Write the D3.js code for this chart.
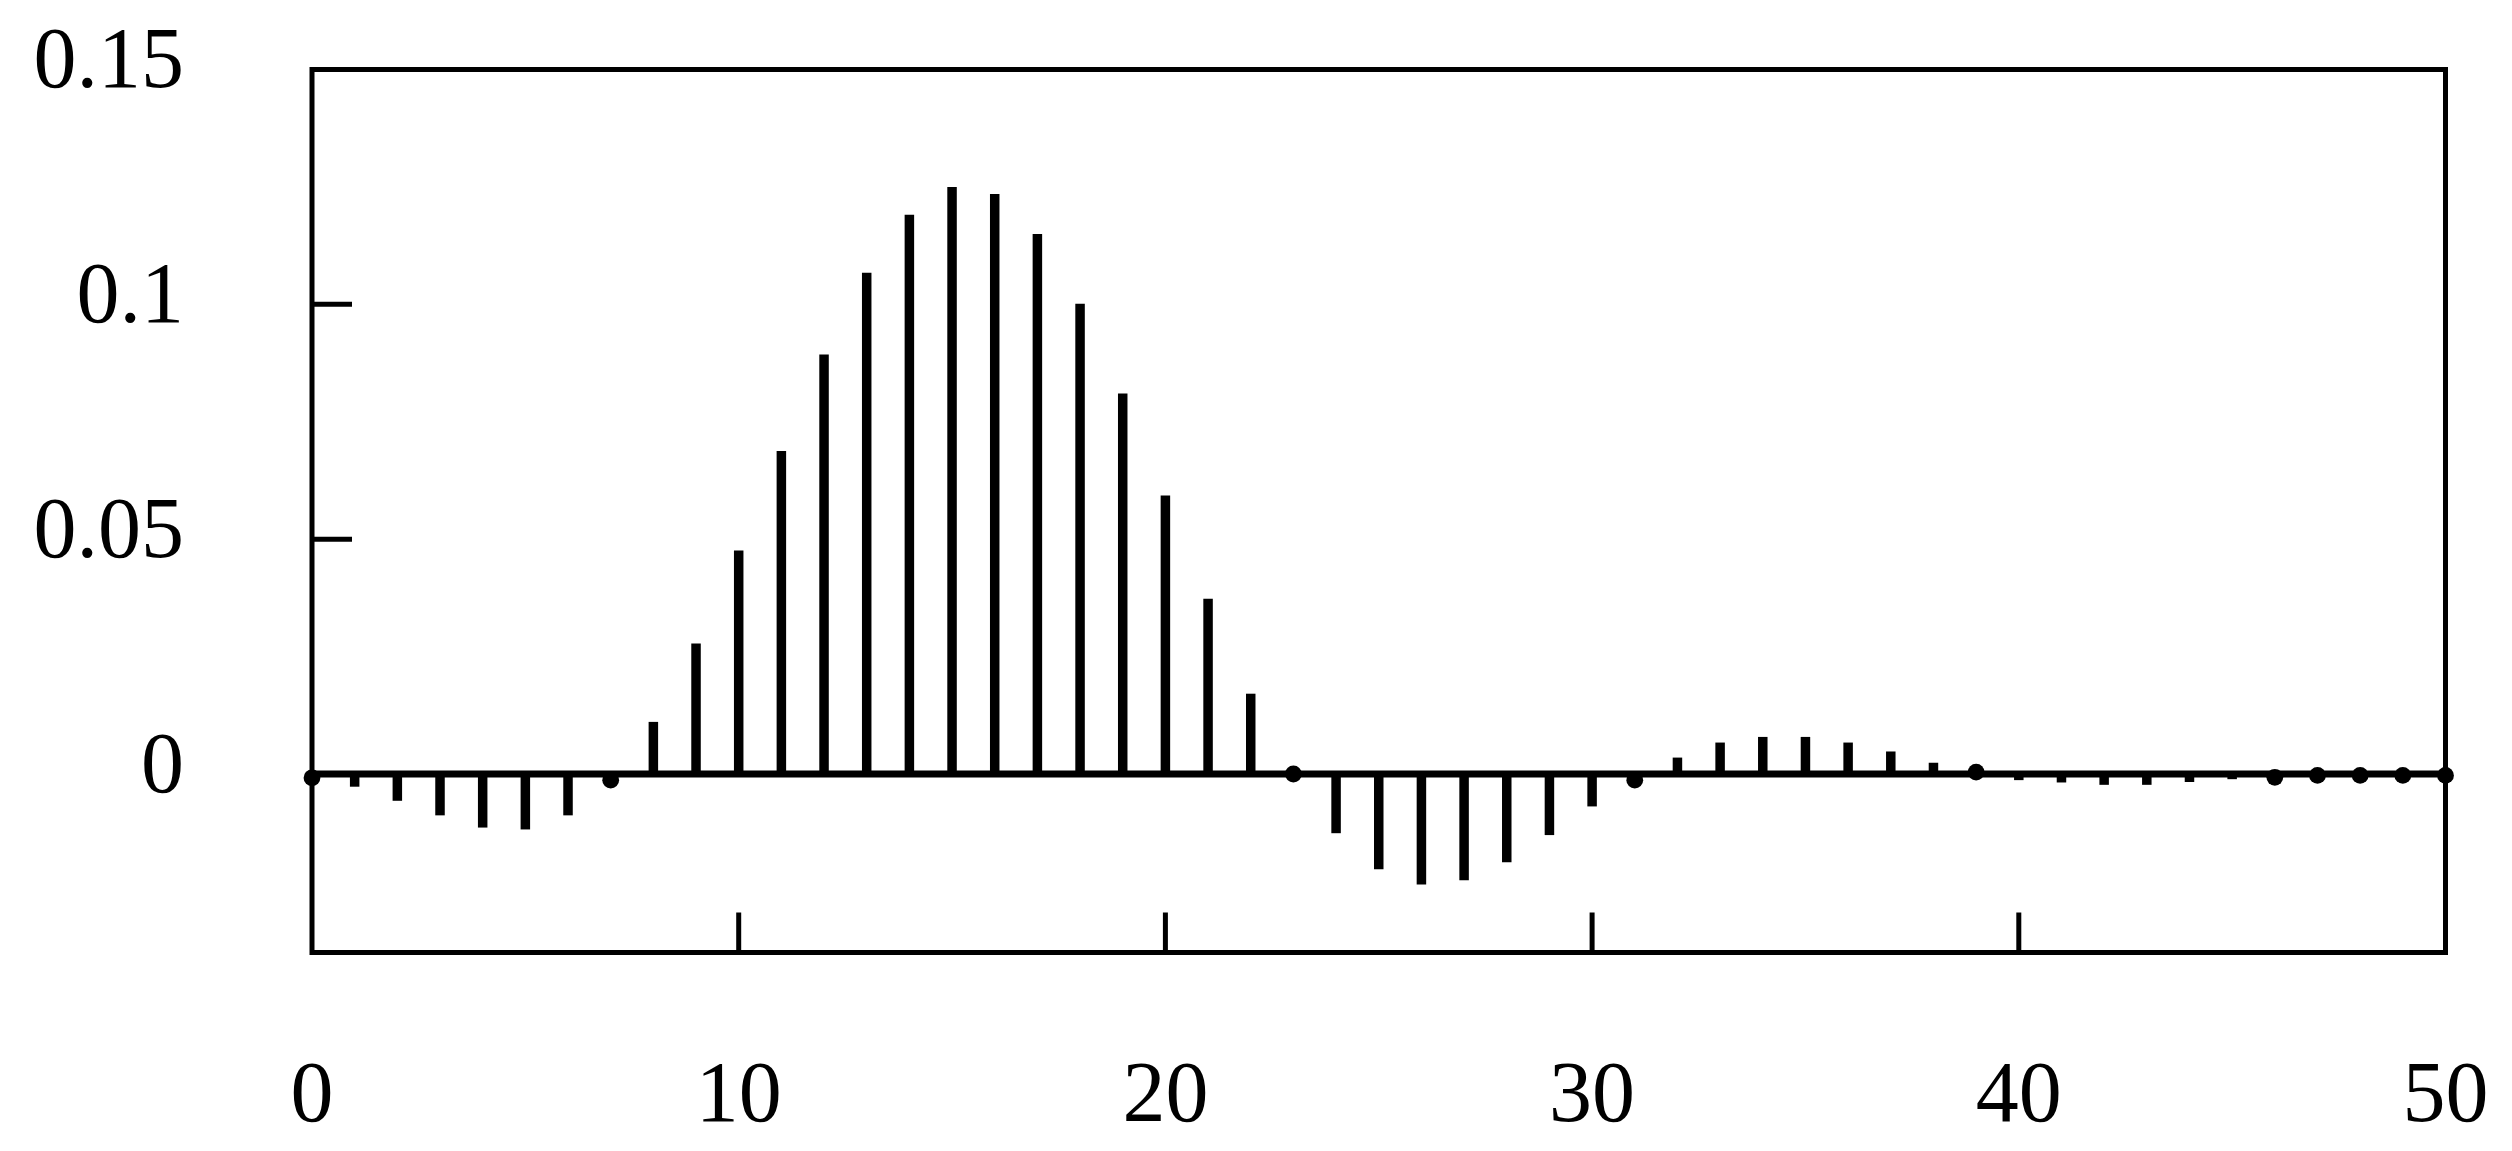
<!DOCTYPE html>
<html>
<head>
<meta charset="utf-8">
<script src="https://cdn.jsdelivr.net/npm/d3@7"></script>
<style>
  html, body { margin: 0; padding: 0; background: #fff; }
  svg { display: block; }
  text { font-family: "Liberation Serif", "Times New Roman", serif; fill: #000; }
</style>
</head>
<body>
<svg id="chart" width="2512" height="1151"></svg>
<script>
// ---- data ----
const indices = d3.range(0, 51);
const values = [
  -0.0008, -0.0027, -0.0057, -0.0088, -0.0114, -0.0118, -0.0088, -0.0013,
   0.0111,  0.0278,  0.0476,  0.0688,  0.0893,  0.1067,  0.1191,  0.1250,
   0.1235,  0.1150,  0.1001,  0.0810,  0.0593,  0.0373,  0.0171,  0.0000,
  -0.0126, -0.0203, -0.0235, -0.0226, -0.0188, -0.0130, -0.0069, -0.0013,
   0.0035,  0.0067,  0.0079,  0.0079,  0.0067,  0.0048,  0.0024,  0.0004,
  -0.0013, -0.0018, -0.0023, -0.0023, -0.0017, -0.0011, -0.0007, -0.0003,
  -0.0003, -0.0003, -0.0003
];
const markerIdx = [0, 7, 23, 31, 39, 46, 47, 48, 49, 50];
const xTicks = [0, 10, 20, 30, 40, 50];
const xTickLabels = ["0", "10", "20", "30", "40", "50"];
const yTicks = [0, 0.05, 0.1, 0.15];
const yTickLabels = ["0", "0.05", "0.1", "0.15"];
const xDomain = [0, 50];
const yDomain = [-0.038, 0.15];

// ---- layout ----
const L = 312, R = 2445.5, T = 69.5, B = 952.5;
const svg = d3.select("#chart");
const x = d3.scaleLinear().domain(xDomain).range([L, R]);
const y = d3.scaleLinear().domain(yDomain).range([B, T]);

// stems
svg.append("g").selectAll("line.stem")
  .data(indices)
  .join("line")
  .attr("class", "stem")
  .attr("x1", i => x(i)).attr("x2", i => x(i))
  .attr("y1", y(0)).attr("y2", i => y(values[i]))
  .attr("stroke", "#000").attr("stroke-width", 9.5);

// zero line
svg.append("line")
  .attr("x1", x(xDomain[0])).attr("x2", x(xDomain[1]))
  .attr("y1", y(0)).attr("y2", y(0))
  .attr("stroke", "#000").attr("stroke-width", 7);

// dots
svg.append("g").selectAll("circle")
  .data(markerIdx)
  .join("circle")
  .attr("cx", i => x(i)).attr("cy", i => y(values[i]))
  .attr("r", 8.4).attr("fill", "#000");

// inner ticks: left axis
const tickLen = 40;
svg.append("g").selectAll("line")
  .data(yTicks.filter(v => v > 0 && v < yDomain[1]))
  .join("line")
  .attr("x1", L).attr("x2", L + tickLen)
  .attr("y1", d => y(d)).attr("y2", d => y(d))
  .attr("stroke", "#000").attr("stroke-width", 5);

// inner ticks: bottom axis
svg.append("g").selectAll("line")
  .data(xTicks.filter(v => v > xDomain[0] && v < xDomain[1]))
  .join("line")
  .attr("x1", d => x(d)).attr("x2", d => x(d))
  .attr("y1", B).attr("y2", B - tickLen)
  .attr("stroke", "#000").attr("stroke-width", 5);

// frame
svg.append("rect")
  .attr("x", L).attr("y", T).attr("width", R - L).attr("height", B - T)
  .attr("fill", "none").attr("stroke", "#000").attr("stroke-width", 5);

// y labels
svg.append("g").selectAll("text")
  .data(yTicks)
  .join("text")
  .attr("x", 184)
  .attr("y", d => y(d) + 17.5)
  .attr("text-anchor", "end")
  .attr("font-size", 86)
  .text((d, i) => yTickLabels[i]);

// x labels
svg.append("g").selectAll("text")
  .data(xTicks)
  .join("text")
  .attr("x", d => x(d))
  .attr("y", 1121)
  .attr("text-anchor", "middle")
  .attr("font-size", 86)
  .text((d, i) => xTickLabels[i]);
</script>
</body>
</html>
